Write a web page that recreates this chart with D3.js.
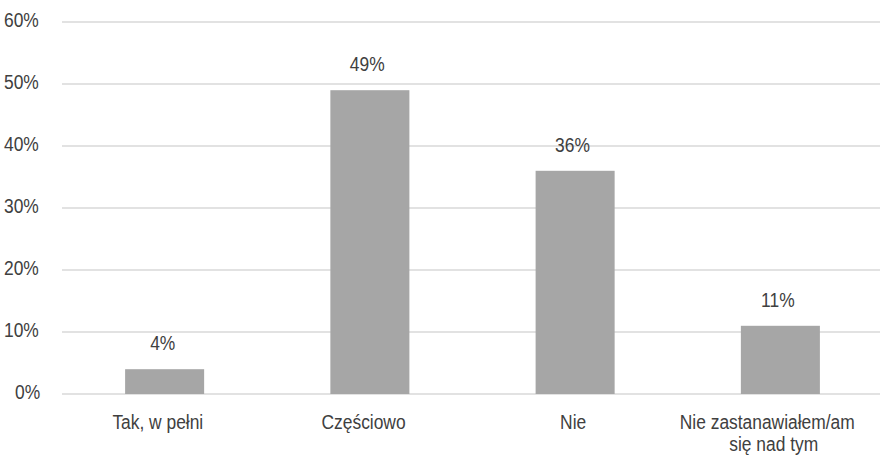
<!DOCTYPE html>
<html><head><meta charset="utf-8">
<script src="https://cdn.jsdelivr.net/npm/d3@7"></script>
<style>
html,body{margin:0;padding:0;background:#fff;}
text{font-family:"Liberation Sans",Arial,sans-serif;fill:#404040;}
</style></head>
<body><svg id="c" width="880" height="463"></svg>
<script>
const categories = [["Tak, w pełni"], ["Częściowo"], ["Nie"], ["Nie zastanawiałem/am", "się nad tym"]];
const values = [4, 49, 36, 11];
const valueLabels = ["4%", "49%", "36%", "11%"];
const yTicks = [0, 10, 20, 30, 40, 50, 60];
const yTickLabels = ["0%", "10%", "20%", "30%", "40%", "50%", "60%"];

const svg = d3.select("#c");
const x = d3.scaleBand().domain(d3.range(categories.length)).range([62, 883]).padding(0);
const y = d3.scaleLinear().domain([0, 60]).range([394, 22]);
const barW = x.bandwidth() * 0.385;
const sx = 0.87;

// place text: layout with full width, render horizontally condensed from the left start
function place(sel, ax, ay, anchor) {
  sel.each(function(d, i) {
    const t = d3.select(this).attr("text-anchor", "start").attr("font-size", 20);
    const w = this.getComputedTextLength();
    const a = ax(d, i);
    const left = anchor === "middle" ? a - w / 2 : anchor === "end" ? a - w : a;
    t.attr("transform", `translate(${left},${ay(d, i)}) scale(${sx},1)`);
  });
}

svg.append("g").selectAll("line").data(yTicks).join("line")
  .attr("x1", 62).attr("x2", 880)
  .attr("y1", d => y(d)).attr("y2", d => y(d))
  .attr("stroke", "#d9d9d9").attr("stroke-width", 1.5);

svg.append("g").selectAll("text").data(yTicks).join("text")
  .text((d, i) => yTickLabels[i])
  .call(place, () => 44, d => y(d) + 5, "end");

svg.append("g").selectAll("rect").data(values).join("rect")
  .attr("x", (d, i) => x(i) + (x.bandwidth() - barW) / 2)
  .attr("width", barW)
  .attr("y", d => y(d))
  .attr("height", d => y(0) - y(d))
  .attr("fill", "#a6a6a6");

svg.append("g").selectAll("text").data(values).join("text")
  .text((d, i) => valueLabels[i])
  .call(place, (d, i) => x(i) + x.bandwidth() / 2, d => y(d) - 19, "middle");

const lines = [];
categories.forEach((c, ci) => c.forEach((l, li) => lines.push({ci, li, l})));
svg.append("g").selectAll("text").data(lines).join("text")
  .text(d => d.l)
  .call(place, d => x(d.ci) + x.bandwidth() / 2, d => 429 + d.li * 22, "middle");
</script></body></html>
